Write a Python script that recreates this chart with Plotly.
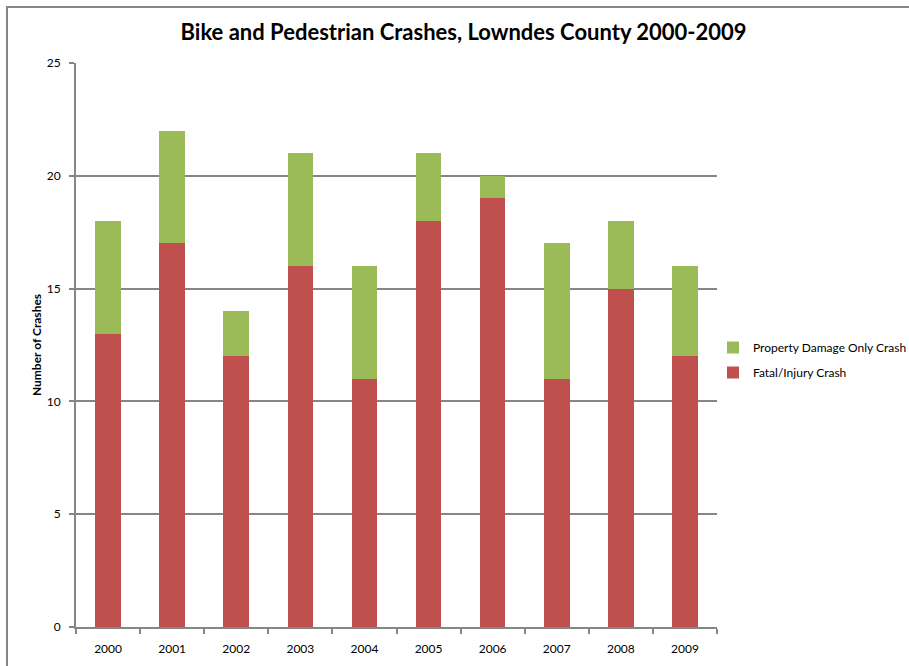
import plotly.graph_objects as go

years = ["2000", "2001", "2002", "2003", "2004", "2005", "2006", "2007", "2008", "2009"]
fatal_injury = [13, 17, 12, 16, 11, 18, 19, 11, 15, 12]
property_damage = [5, 5, 2, 5, 5, 3, 1, 6, 3, 4]

FONT = "Lato, 'Liberation Sans', sans-serif"
GRAY = "#868686"

fig = go.Figure()
fig.add_trace(go.Bar(name="Fatal/Injury Crash", x=years, y=fatal_injury,
                     legendgroup="fi", legendrank=2,
                     marker=dict(color="#C0504D", line=dict(width=0))))
fig.add_trace(go.Bar(name="Property Damage Only Crash", x=years, y=property_damage,
                     legendgroup="pdo", legendrank=1,
                     marker=dict(color="#9BBB59", line=dict(width=0))))

fig.update_layout(
    barmode="stack", bargap=0.6,
    width=909, height=666,
    margin=dict(l=76, r=192, t=63, b=39, autoexpand=False),
    paper_bgcolor="white", plot_bgcolor="white",
    font=dict(family=FONT, color="black", size=12),
    title=dict(text="<b>Bike and Pedestrian Crashes, Lowndes County 2000-2009</b>",
               x=0.51, xanchor="center", y=0.951, yanchor="middle",
               font=dict(size=22)),
    legend=dict(x=(713 - 76) / 641, y=(627 - 360) / 564, xanchor="left", yanchor="middle",
                traceorder="grouped", tracegroupgap=6,
                font=dict(size=12), itemwidth=30),
    showlegend=True,
)
fig.update_xaxes(showline=True, linecolor=GRAY, linewidth=2,
                 ticks="outside", tickson="boundaries", ticklen=5, tickcolor=GRAY, tickwidth=2,
                 showgrid=False, tickfont=dict(size=12), ticklabelstandoff=10)
fig.update_yaxes(range=[0, 25], dtick=5, showline=True, linecolor=GRAY, linewidth=2,
                 ticks="outside", ticklen=5, tickcolor=GRAY, tickwidth=2,
                 showgrid=True, gridcolor=GRAY, gridwidth=1.5, zeroline=False,
                 title=dict(text="<b>Number of Crashes</b>", font=dict(size=12), standoff=2),
                 tickfont=dict(size=12), ticklabelstandoff=6)

# outer chart border
fig.add_shape(type="rect", xref="paper", yref="paper",
              x0=(7 - 76) / 641, x1=(930 - 76) / 641,
              y0=(627 - 690) / 564, y1=(627 - 7) / 564,
              line=dict(color=GRAY, width=2), fillcolor="rgba(0,0,0,0)", layer="below")

fig.write_html("out.html", config={"displayModeBar": False},
               post_script="document.body.style.margin='0';")
